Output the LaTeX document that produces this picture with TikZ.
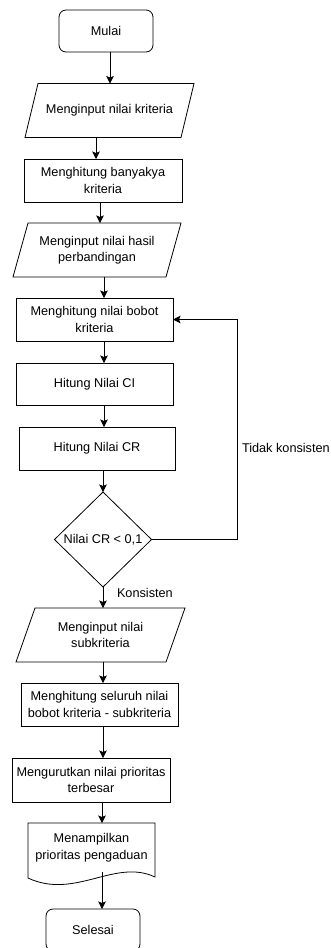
\documentclass[tikz,border=0pt]{standalone}
\usepackage{fontspec}
\setmainfont{Liberation Sans}
\usetikzlibrary{arrows.meta,calc}
\tikzset{
  base/.style={font=\fontsize{12.7pt}{16.5pt}\selectfont, align=center, inner sep=0pt, outer sep=0pt},
  term/.style={base, draw, line width=0.8pt, rounded corners=7pt, minimum width=94pt, minimum height=42pt},
  proc/.style={base, draw, line width=0.8pt, minimum width=157pt, minimum height=43pt},
  ghost/.style={base, minimum height=54pt},
  conn/.style={line width=0.8pt, -{Stealth[length=7.5pt,width=7.5pt,inset=1.5pt]}},
  edge/.style={line width=0.8pt, line join=miter},
  lbl/.style={base, anchor=west},
}
\newcommand{\drawslant}[2]{\draw[edge] ([xshift=#2]#1.north west) -- (#1.north east) -- ([xshift=-#2]#1.south east) -- (#1.south west) -- cycle;}
\begin{document}
\begin{tikzpicture}[x=1pt,y=-1pt]
\useasboundingbox (0,0) rectangle (330,948);
\clip (0,0) rectangle (330,948);

% column x positions of the connectors
\coordinate (x96) at (96,0);
\coordinate (x100) at (100,0);
\coordinate (x102) at (102,0);
\coordinate (x103) at (103,0);
\coordinate (x104) at (104,0);
\coordinate (x110) at (110,0);

\node[term] (start) at (106,31) {Mulai};
\node[ghost, minimum width=169pt] (in1) at (109.5,110.5) {Menginput nilai kriteria};
\drawslant{in1}{13pt}
\node[proc, minimum width=158pt] (r1) at (103,180.5) {Menghitung banyakya\\kriteria};
\node[ghost, minimum width=168pt] (in2) at (97,250) {Menginput nilai hasil\\perbandingan};
\drawslant{in2}{15pt}
\node[proc] (r2) at (94.5,319.5) {Menghitung nilai bobot\\kriteria};
\node[proc, minimum height=42pt] (ci) at (94.5,384) {Hitung Nilai CI};
\node[proc, minimum width=156pt] (cr) at (97,448.5) {Hitung Nilai CR};
\node[base, minimum width=97pt, minimum height=95pt] (dec) at (103,539.5) {Nilai CR < 0,1};
\draw[edge] (dec.north) -- (dec.east) -- (dec.south) -- (dec.west) -- cycle;
\node[ghost, minimum width=169pt] (in3) at (100.5,635) {Menginput nilai\\subkriteria};
\drawslant{in3}{19pt}
\node[proc] (rs) at (99.5,704.5) {Menghitung seluruh nilai\\bobot kriteria - subkriteria};
\node[proc, minimum width=158pt, minimum height=44pt] (ru) at (91,780) {Mengurutkan nilai prioritas\\terbesar};
\node[base, minimum width=127pt, minimum height=49pt] (doc) at (91.5,847.5) {Menampilkan\\prioritas pengaduan};
\draw[edge] (doc.north west) -- (doc.north east) -- (155,877) .. controls (115,858) and (75,900) .. (28,878) -- cycle;
\node[term] (end) at (93,930) {Selesai};

\draw[conn] (start.south -| x110) -- (in1.north -| x110);
\draw[conn] (in1.south -| x96) -- (r1.north -| x96);
\draw[conn] (r1.south -| x100) -- (in2.north -| x100);
\draw[conn] (in2.south -| x104) -- (r2.north -| x104);
\draw[conn] (r2.south -| x104) -- (ci.north -| x104);
\draw[conn] (ci.south -| x104) -- (cr.north -| x104);
\draw[conn] (cr.south -| x103) -- (dec.north);
\draw[conn] (dec.south) -- (in3.north -| x103);
\draw[conn] (in3.south -| x103) -- (rs.north -| x103);
\draw[conn] (rs.south -| x103) -- (ru.north -| x103);
\draw[conn] (ru.south -| x102) -- (doc.north -| x102);
\draw[conn] (doc.south -| x102) -- (end.north -| x102);

\coordinate (loop) at (237,539.5);
\draw[conn] (dec.east) -- (loop) |- (r2.east);

\node[lbl] (tk) at (242,448) {Tidak konsisten};
\node[lbl] (ks) at (117,593) {Konsisten};
\end{tikzpicture}
\end{document}
